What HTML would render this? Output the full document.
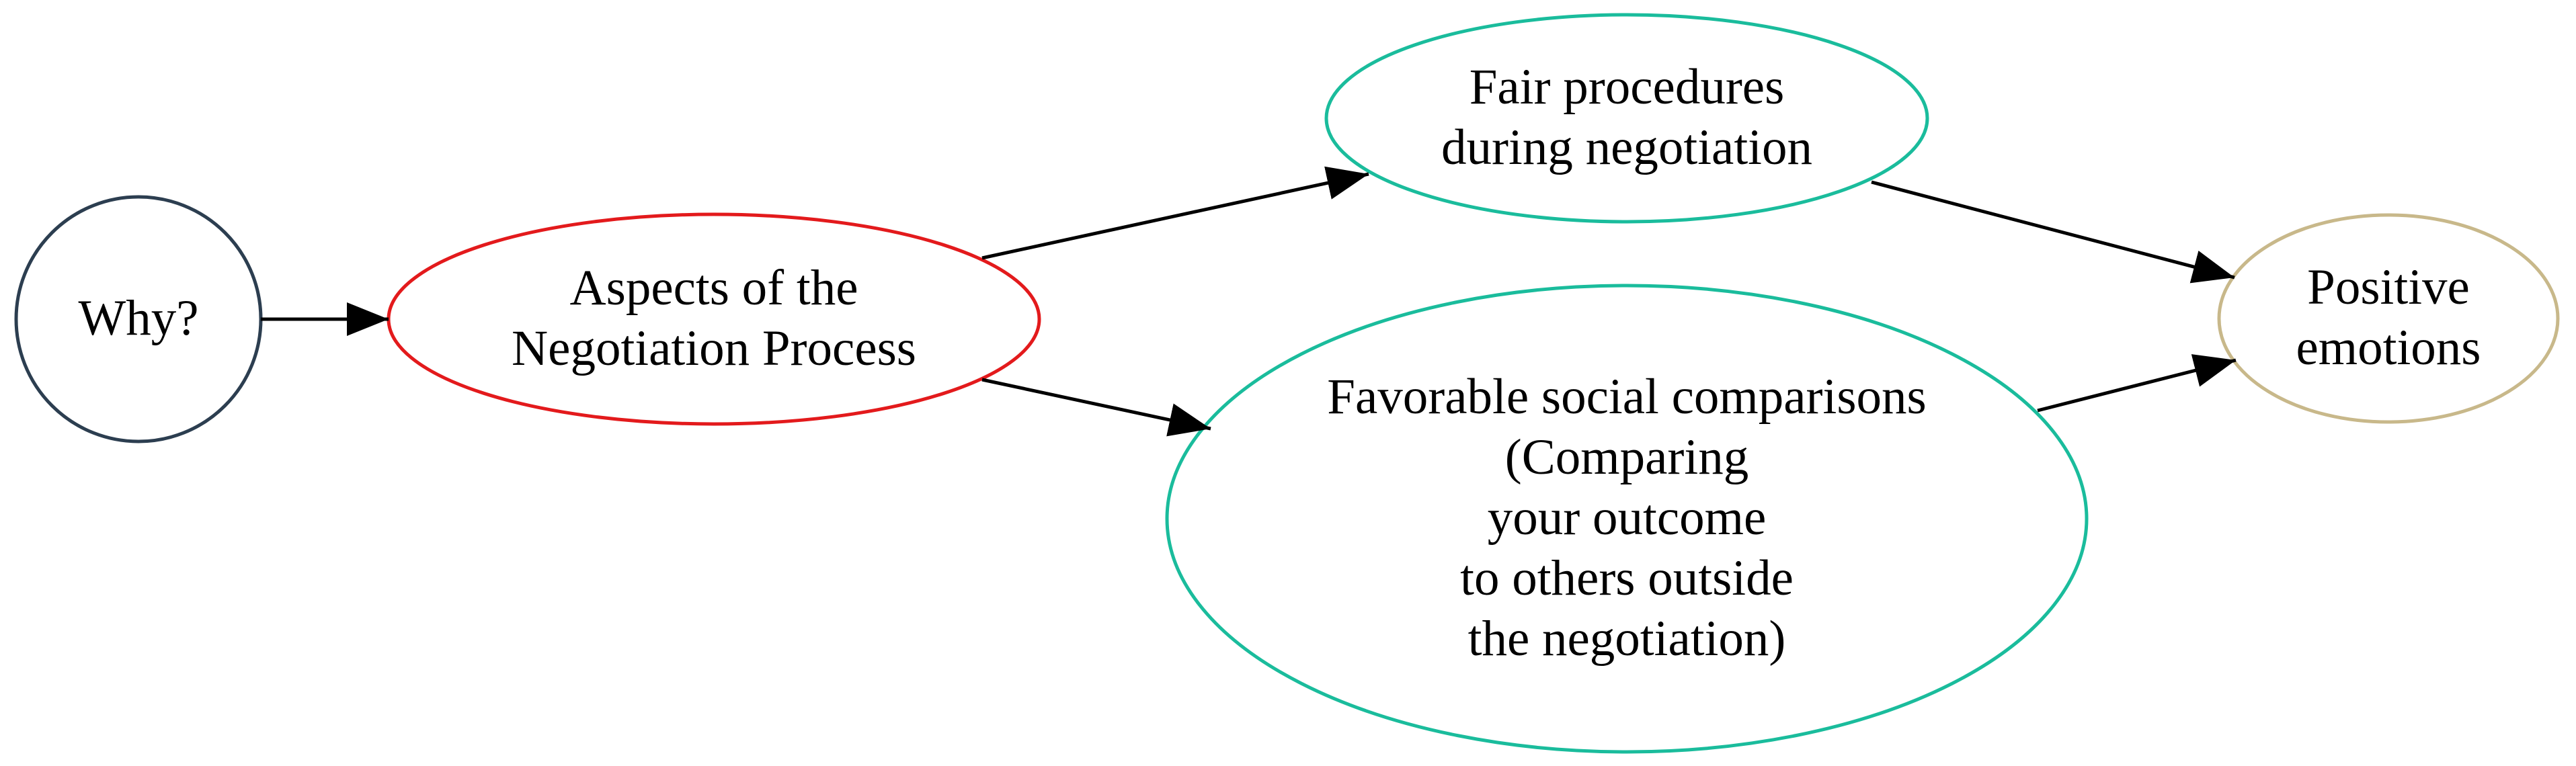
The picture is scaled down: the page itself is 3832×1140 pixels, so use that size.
<!DOCTYPE html>
<html><head><meta charset="utf-8"><style>
html,body{margin:0;padding:0;background:#fff;}
svg{display:block}
text{font-family:"Liberation Serif",serif;font-size:75px;fill:#000;text-anchor:middle}
</style></head><body>
<svg width="3832" height="1140" viewBox="0 0 3832 1140" xmlns="http://www.w3.org/2000/svg">
<defs>
<marker id="a" markerUnits="userSpaceOnUse" markerWidth="72" markerHeight="54" refX="62" refY="25" orient="auto">
<path d="M0,0 L62,25 L0,50 Z" fill="#000"/>
</marker>
</defs>
<rect width="3832" height="1140" fill="#fff"/>
<g fill="none" stroke-width="5">
<circle cx="206" cy="475" r="182" stroke="#2c3e50"/>
<ellipse cx="1062" cy="475" rx="484" ry="156" stroke="#e31a1c"/>
<ellipse cx="2420" cy="176" rx="447" ry="154" stroke="#1abc9c"/>
<ellipse cx="2420" cy="772" rx="684" ry="347" stroke="#1abc9c"/>
<ellipse cx="3553" cy="474" rx="252" ry="154" stroke="#c8b88a"/>
</g>
<g stroke="#000" stroke-width="5" fill="none">
<line x1="388" y1="475" x2="578" y2="475" marker-end="url(#a)"/>
<line x1="1461" y1="384" x2="2036" y2="259" marker-end="url(#a)"/>
<line x1="1461" y1="565" x2="1801" y2="638" marker-end="url(#a)"/>
<line x1="2784" y1="271" x2="3324" y2="413" marker-end="url(#a)"/>
<line x1="3031" y1="611" x2="3326" y2="536" marker-end="url(#a)"/>
</g>
<text x="206" y="498">Why?</text>
<text x="1062" y="453">Aspects of the</text>
<text x="1062" y="543">Negotiation Process</text>
<text x="2420" y="154">Fair procedures</text>
<text x="2420" y="244">during negotiation</text>
<text x="2420" y="615">Favorable social comparisons</text>
<text x="2420" y="705">(Comparing</text>
<text x="2420" y="795">your outcome</text>
<text x="2420" y="885">to others outside</text>
<text x="2420" y="975">the negotiation)</text>
<text x="3553" y="452">Positive</text>
<text x="3553" y="542">emotions</text>
</svg>
</body></html>
